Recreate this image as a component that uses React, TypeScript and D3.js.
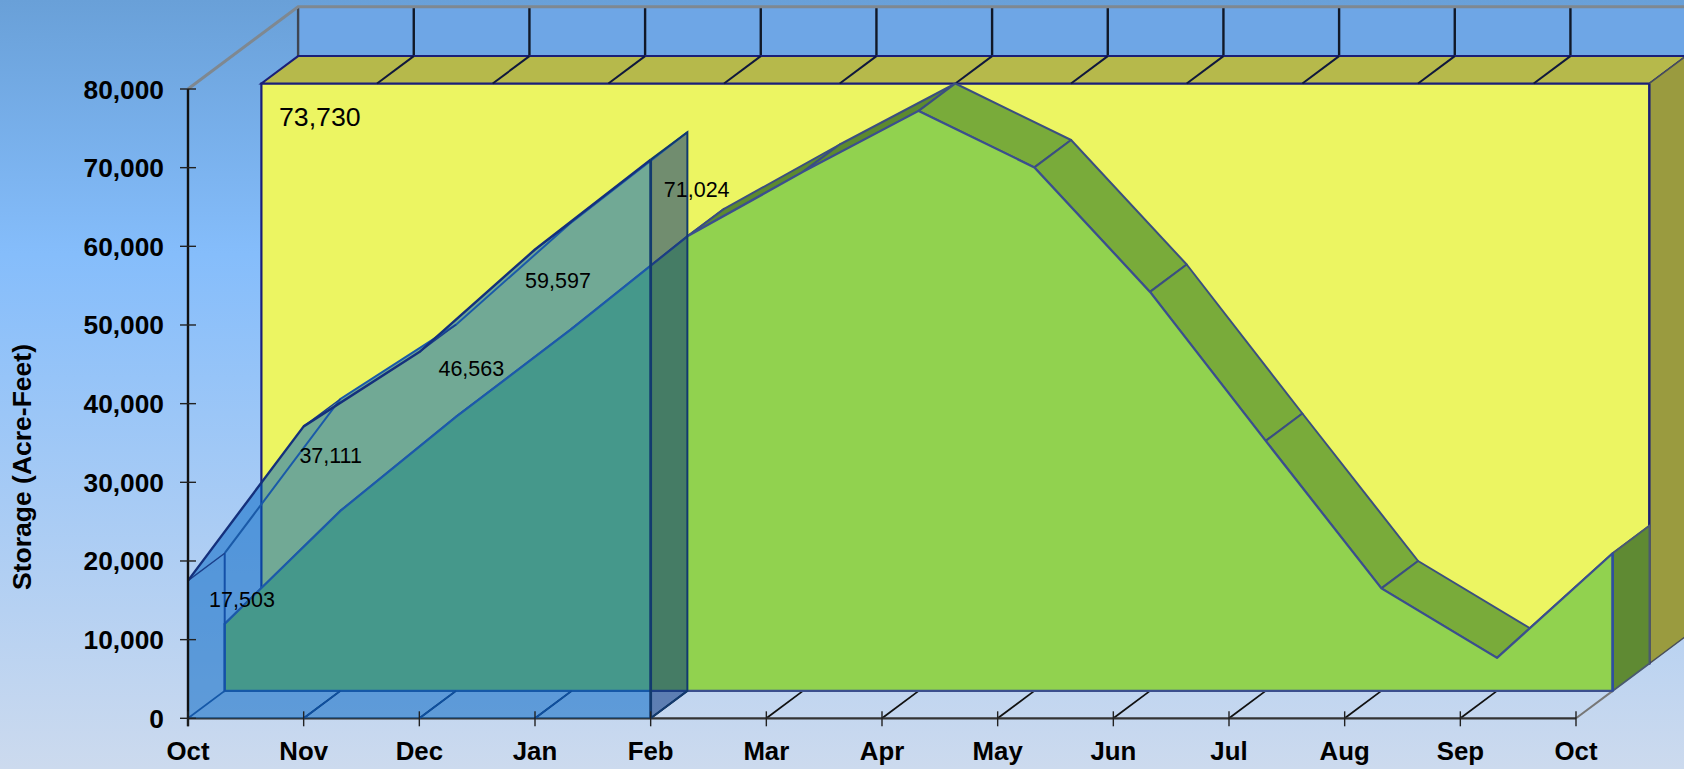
import React from "react";
import * as d3 from "d3";

const months = ["Oct","Nov","Dec","Jan","Feb","Mar","Apr","May","Jun","Jul","Aug","Sep","Oct"];
const yTicks = [0,10000,20000,30000,40000,50000,60000,70000,80000];
const backValue = 73730;
const greenValues = [8520,22880,34830,46020,57790,65980,73730,66550,50720,31780,13030,4195,17503];
const blueValues = [17503,37111,46563,59597,71024];
const blueLabels = ["17,503","37,111","46,563","59,597","71,024"];
const labelDx = [54,27,52,23,46];
const labelDy = [26,37,24,39,37];

const W = 1684, H = 769;
const x = d3.scaleLinear().domain([0,12]).range([188,1576]);
const y = d3.scaleLinear().domain([0,80000]).range([718.3,89]);
const DX = 36.7, DY = -27.4;
type P = [number,number];
const at = (i:number,v:number,layer:number):P => [x(i)+DX*layer, y(v)+DY*layer];
const poly = (pts:P[]) => "M"+pts.map(p=>p[0].toFixed(1)+","+p[1].toFixed(1)).join("L")+"Z";
const line = (pts:P[]) => d3.line()(pts) as string;
const cw = (pts:P[]) => d3.polygonArea(pts) < 0 ? pts.slice().reverse() : pts;

function ribbon(vals:number[], layer:number){
  const n = vals.length;
  const front = vals.map((v,i)=>at(i,v,layer));
  const back = vals.map((v,i)=>at(i,v,layer+1));
  const base0 = at(0,0,layer), baseN = at(n-1,0,layer);
  const baseB0 = at(0,0,layer+1), baseBN = at(n-1,0,layer+1);
  return {n,front,back,base0,baseN,baseB0,baseBN};
}

export default function App(){
  const g = ribbon(greenValues,1);
  const b = ribbon(blueValues,0);
  const gridBack = months.map((_,i)=>i);
  const yl = [at(0,backValue,2),at(12,backValue,2),at(12,backValue,3),at(0,backValue,3)] as P[];
  const floorCorner:P = [b.baseN[0],b.baseB0[1]];
  const blueFaces:P[][] = [
    [b.base0,...b.front,b.baseN],
    [b.base0,b.front[0],b.back[0],b.baseB0],
    [b.base0,b.baseB0,floorCorner,b.baseN],
    ...b.front.slice(1).map((p,i)=>[b.front[i],p,b.back[i+1],b.back[i]] as P[]),
  ];
  const blueBody = blueFaces.map(f=>poly(cw(f))).join("");
  return (
    <svg width={W} height={H} viewBox={`0 0 ${W} ${H}`} style={{position:"fixed",left:0,top:0,display:"block"}}
      fontFamily="'Liberation Sans', Arial, sans-serif">
      <defs>
        <linearGradient id="bg" x1="0" y1="0" x2="0" y2="1">
          <stop offset="0" stopColor="#69a0d8"/>
          <stop offset="0.33" stopColor="#85bdfb"/>
          <stop offset="1" stopColor="#ccdaee"/>
        </linearGradient>
      </defs>
      <rect width={W} height={H} fill="url(#bg)"/>
      {/* back wall band */}
      <rect x={at(0,0,3)[0]} y={y(80000)+DY*3} width={W-at(0,0,3)[0]} height={yl[3][1]-(y(80000)+DY*3)} fill="#6ea6e6"/>
      {gridBack.map(i=>(
        <line key={i} x1={at(i,0,3)[0]} x2={at(i,0,3)[0]} y1={y(80000)+DY*3} y2={yl[3][1]} stroke={i===0?"#3f4652":"#101828"} strokeWidth={2.4}/>
      ))}
      <path d={line([[x(0),y(80000)],[x(0)+DX*3,y(80000)+DY*3],[W,y(80000)+DY*3]])} fill="none" stroke="#7f8890" strokeWidth={3}/>

      {/* yellow series */}
      <path d={poly([at(0,0,2),at(0,backValue,2),at(12,backValue,2),at(12,0,2)])} fill="#ecf562" stroke="#1a1f78" strokeWidth={2.2}/>
      <path d={poly(yl)} fill="#b6b94b" stroke="#1a1f78" strokeWidth={2}/>
      <path d={poly([at(12,backValue,2),at(12,backValue,3),at(12,0,3),at(12,0,2)])} fill="#9a9b3f" stroke="#4a4f5a" strokeWidth={1.5}/>
      <line x1={at(12,0,2)[0]} x2={at(12,0,2)[0]} y1={at(12,backValue,2)[1]} y2={at(12,0,2)[1]} stroke="#1a1f78" strokeWidth={2.2}/>
      {gridBack.slice(1,12).map(i=>(
        <path key={i} d={line([at(i,backValue,2),at(i,backValue,3)])} stroke="#10183c" strokeWidth={2} fill="none"/>
      ))}
      <text x={279} y={126} fontSize={26.7} fill="#000">{"73,730"}</text>

      {/* floor lines */}
      {gridBack.slice(1).map(i=>(
        <path key={i} d={line([at(i,0,0),at(i,0,1)])} stroke={i===12?"#777":"#111"} strokeWidth={i===12?2:1.8} fill="none"/>
      ))}
      <path d={line([at(0,0,0),at(12,0,0)])} stroke="#333" strokeWidth={2.2} fill="none"/>

      {/* green series */}
      {g.front.slice(1).map((p,i)=>(
        <path key={i} d={poly([g.front[i],p,g.back[i+1],g.back[i]])}
          fill={greenValues[i+1]>greenValues[i]?"#5c8a2f":"#79ab3a"} stroke="#3b4f80" strokeWidth={2} strokeLinejoin="round"/>
      ))}
      <path d={poly([g.base0,g.front[0],g.back[0],g.baseB0])} fill="#5c8a2f" stroke="#3b4f80" strokeWidth={1.8}/>
      <path d={poly([g.baseN,g.front[12],g.back[12],g.baseBN])} fill="#5f8a33" stroke="#4a5a70" strokeWidth={1.8}/>
      <path d={poly([g.base0,...g.front,g.baseN])} fill="#91d24f" stroke="#3b4f8e" strokeWidth={2.2} strokeLinejoin="round"/>
      <line x1={g.baseN[0]} x2={g.baseN[0]} y1={g.baseN[1]} y2={g.front[12][1]} stroke="#2f4f9e" strokeWidth={2.6}/>

      {/* blue translucent series */}
      <path d={poly([b.baseN,b.front[4],b.back[4],b.baseBN])} fill="#002e7a" fillOpacity={0.52}/>
      <path d={blueBody} fill="#0064c4" fillOpacity={0.52} fillRule="nonzero"/>
      <path d={line([b.base0,b.baseB0,floorCorner])} fill="none" stroke="#1558a8" strokeWidth={1.8}/>
      {[1,2,3].map(i=>(
        <path key={i} d={line([at(i,0,0),at(i,0,1)])} stroke="#0f4f9f" strokeWidth={1.8} fill="none"/>
      ))}
      <path d={line(b.back)} fill="none" stroke="#1a5aa8" strokeWidth={2}/>
      <path d={line([b.baseB0,b.back[0]])} fill="none" stroke="#1450a8" strokeWidth={2}/>
      <path d={line([b.front[4],b.back[4],b.baseBN,b.baseN])} fill="none" stroke="#123a6e" strokeWidth={2}/>
      {b.front.slice(0,4).map((p,i)=>(
        <path key={i} d={line([p,b.back[i]])} fill="none" stroke="#1a3f8a" strokeWidth={1.4}/>
      ))}
      <path d={line(b.front)} fill="none" stroke="#14307c" strokeWidth={2.4} strokeLinejoin="round"/>
      <line x1={b.baseN[0]} x2={b.baseN[0]} y1={b.baseN[1]} y2={b.front[4][1]} stroke="#123a6e" strokeWidth={2.8}/>
      <line x1={b.base0[0]} x2={b.base0[0]} y1={b.base0[1]} y2={b.front[0][1]} stroke="#1f4f9a" strokeWidth={1.8}/>

      {/* labels on blue */}
      {blueLabels.map((t,i)=>(
        <text key={i} x={x(i)+labelDx[i]} y={y(blueValues[i])+labelDy[i]} fontSize={21.5} textAnchor="middle" fill="#000">{t}</text>
      ))}

      {/* axes */}
      <line x1={x(0)} x2={x(0)} y1={y(80000)} y2={y(0)+8} stroke="#111" strokeWidth={2.4}/>
      {yTicks.map(t=>(
        <g key={t}>
          <line x1={x(0)-8} x2={x(0)+8} y1={y(t)} y2={y(t)} stroke="#222" strokeWidth={1.4}/>
          <text x={164} y={y(t)+9.5} fontSize={26.3} fontWeight="bold" textAnchor="end" fill="#000">{d3.format(",")(t)}</text>
        </g>
      ))}
      {months.map((m,i)=>(
        <g key={i}>
          <line x1={x(i)} x2={x(i)} y1={y(0)-7} y2={y(0)+8} stroke="#222" strokeWidth={1.4}/>
          <text x={x(i)} y={760} fontSize={25.8} fontWeight="bold" textAnchor="middle" fill="#000">{m}</text>
        </g>
      ))}
      <text transform="translate(31,467) rotate(-90)" fontSize={26.5} fontWeight="bold" textAnchor="middle" fill="#000">Storage (Acre-Feet)</text>
    </svg>
  );
}
